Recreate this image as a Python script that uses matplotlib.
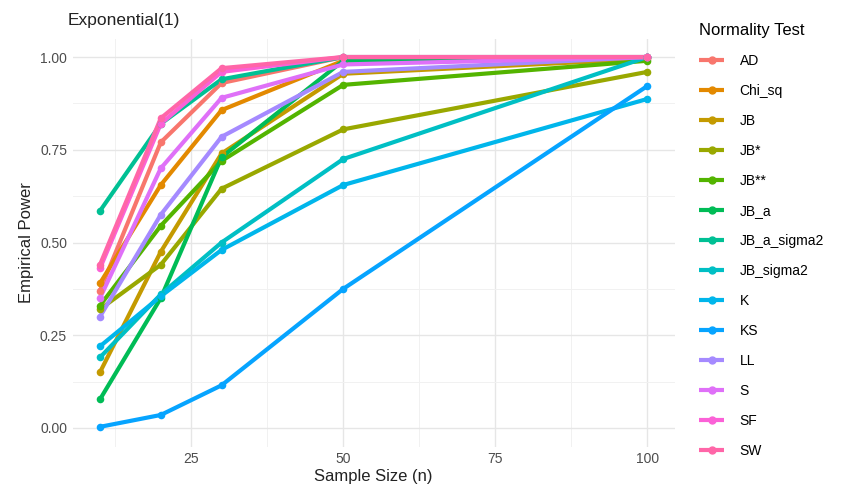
import matplotlib.pyplot as plt

plt.rcParams['font.family'] = ['Liberation Sans', 'DejaVu Sans']

# sample sizes
n = [10, 20, 30, 50, 100]

# empirical power per test
AD = [0.37, 0.77, 0.93, 1.00, 1.00]
Chi_sq = [0.39, 0.655, 0.857, 0.99, 1.00]
JB = [0.15, 0.475, 0.74, 0.955, 0.995]
JB_star = [0.32, 0.44, 0.645, 0.805, 0.96]
JB_2star = [0.33, 0.545, 0.72, 0.925, 0.99]
JB_a = [0.077, 0.35, 0.73, 0.99, 1.00]
JB_a_sigma2 = [0.585, 0.82, 0.94, 1.00, 1.00]
JB_sigma2 = [0.19, 0.36, 0.50, 0.725, 1.00]
K = [0.22, 0.355, 0.48, 0.655, 0.887]
KS = [0.003, 0.035, 0.115, 0.375, 0.922]
LL = [0.30, 0.575, 0.785, 0.96, 1.00]
S = [0.35, 0.70, 0.89, 0.98, 1.00]
SF = [0.43, 0.82, 0.96, 1.00, 1.00]
SW = [0.44, 0.835, 0.97, 1.00, 1.00]

tests = ['AD', 'Chi_sq', 'JB', 'JB*', 'JB**', 'JB_a', 'JB_a_sigma2',
         'JB_sigma2', 'K', 'KS', 'LL', 'S', 'SF', 'SW']
values = [AD, Chi_sq, JB, JB_star, JB_2star, JB_a, JB_a_sigma2,
          JB_sigma2, K, KS, LL, S, SF, SW]
colors = ['#F8766D', '#E38900', '#C49A00', '#99A800', '#53B400', '#00BC56',
          '#00C094', '#00BFC4', '#00B6EB', '#06A4FF', '#A58AFF', '#DF70F8',
          '#FB61D7', '#FF66A8']

fig = plt.figure(figsize=(8.41, 5), dpi=100)
ax = fig.add_axes([0.0863, 0.107, 0.716, 0.816])

# lines first, then points (like geom_line + geom_point)
for name, v, c in zip(tests, values, colors):
    ax.plot(n, v, color=c, lw=3.0, solid_capstyle='butt', label=name, zorder=3)
for v, c in zip(values, colors):
    ax.scatter(n, v, color=c, s=30, zorder=4, linewidths=0)

ax.set_xlim(5.5, 104.5)
ax.set_ylim(-0.05, 1.05)
ax.set_xticks([25, 50, 75, 100])
ax.set_xticks([12.5, 37.5, 62.5, 87.5], minor=True)
ax.set_yticks([0, 0.25, 0.5, 0.75, 1.0])
ax.set_yticklabels(['0.00', '0.25', '0.50', '0.75', '1.00'])
ax.set_yticks([0.125, 0.375, 0.625, 0.875], minor=True)
ax.grid(which='major', color='#E6E6E6', lw=1.0, zorder=0)
ax.grid(which='minor', color='#F1F1F1', lw=0.7, zorder=0)
for s in ax.spines.values():
    s.set_visible(False)
ax.tick_params(which='both', length=0, labelsize=10, labelcolor='#4D4D4D', pad=4)

ax.set_xlabel('Sample Size (n)', fontsize=12, color='#222222', labelpad=2)
ax.set_ylabel('Empirical Power', fontsize=12, color='#222222', labelpad=4)
fig.text(0.081, 0.96, 'Exponential(1)', fontsize=12.5, color='#222222', ha='left', va='center')

leg = ax.legend(loc='upper left', bbox_to_anchor=(1.02, 1.068), frameon=False,
                title='Normality Test', fontsize=10, title_fontsize=12,
                handlelength=1.8, handletextpad=1.1, labelspacing=1.15,
                alignment='left', markerscale=1)
for h in leg.legend_handles:
    h.set_marker('o')
    h.set_markersize(5)

plt.savefig('out.png', dpi=100)
